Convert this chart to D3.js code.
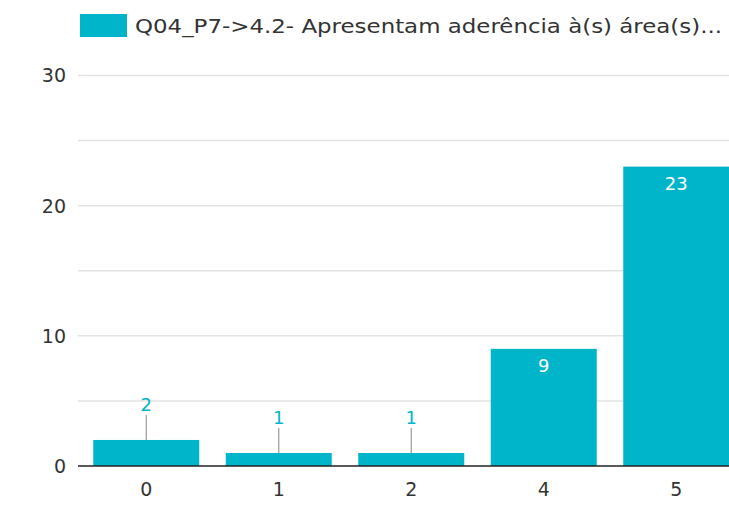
<!DOCTYPE html>
<html>
<head>
<meta charset="utf-8">
<script src="https://cdn.jsdelivr.net/npm/d3@7"></script>
<style>
  body { margin: 0; background: #fff; }
  text { font-family: "DejaVu Sans", sans-serif; }
</style>
</head>
<body>
<svg width="729" height="506"></svg>
<script>
// Data
var categories = ['0', '1', '2', '4', '5']
var values = [2, 1, 1, 9, 23]
var yTicks = [0, 10, 20, 30]
var seriesName = 'Q04_P7->4.2- Apresentam aderência à(s) área(s)...'

var color = '#00b5c9'

var svg = d3.select('svg'),
  width = +svg.attr('width'),
  height = +svg.attr('height')

var plotLeft = 78

// Scales
var x = d3
  .scaleBand()
  .domain(categories)
  .range([80, 742.5])
  .paddingInner(0.2)
  .paddingOuter(0.1)

var y = d3
  .scaleLinear()
  .domain([0, 30])
  .range([466, 75.5])

// Gridlines every 5
svg
  .append('g')
  .selectAll('line')
  .data(d3.range(5, 31, 5))
  .enter()
  .append('line')
  .attr('x1', plotLeft)
  .attr('x2', width)
  .attr('y1', function(d) { return y(d) })
  .attr('y2', function(d) { return y(d) })
  .attr('stroke', '#e3e3e3')
  .attr('stroke-width', 1.5)

// Y axis labels
svg
  .append('g')
  .selectAll('text')
  .data(yTicks)
  .enter()
  .append('text')
  .attr('x', 66)
  .attr('y', function(d) { return y(d) })
  .attr('dy', '0.36em')
  .attr('text-anchor', 'end')
  .attr('font-size', 19)
  .attr('fill', '#333')
  .text(function(d) { return d })

// Bars
svg
  .append('g')
  .selectAll('rect')
  .data(values)
  .enter()
  .append('rect')
  .attr('x', function(d, i) { return x(categories[i]) })
  .attr('width', x.bandwidth())
  .attr('y', function(d) { return y(d) })
  .attr('height', function(d) { return y(0) - y(d) })
  .attr('fill', color)

// Baseline
svg
  .append('line')
  .attr('x1', plotLeft)
  .attr('x2', width)
  .attr('y1', y(0))
  .attr('y2', y(0))
  .attr('stroke', '#222')
  .attr('stroke-width', 1.5)

// X axis labels
svg
  .append('g')
  .selectAll('text')
  .data(categories)
  .enter()
  .append('text')
  .attr('x', function(d) { return x(d) + x.bandwidth() / 2 })
  .attr('y', y(0) + 30)
  .attr('text-anchor', 'middle')
  .attr('font-size', 19)
  .attr('fill', '#333')
  .text(function(d) { return d })

// Value labels: inside for tall bars, above with leader line for short ones
var labels = svg.append('g')
values.forEach(function(v, i) {
  var cx = x(categories[i]) + x.bandwidth() / 2
  if (v >= 5) {
    labels
      .append('text')
      .attr('x', cx)
      .attr('y', y(v) + 23)
      .attr('text-anchor', 'middle')
      .attr('font-size', 18)
      .attr('fill', '#fff')
      .text(v)
  } else {
    labels
      .append('line')
      .attr('x1', cx)
      .attr('x2', cx)
      .attr('y1', y(v))
      .attr('y2', y(v) - 25)
      .attr('stroke', '#999')
      .attr('stroke-width', 1.2)
    labels
      .append('text')
      .attr('x', cx)
      .attr('y', y(v) - 29)
      .attr('text-anchor', 'middle')
      .attr('font-size', 18)
      .attr('fill', color)
      .text(v)
  }
})

// Legend
var legend = svg.append('g').attr('transform', 'translate(80,14)')
legend
  .append('rect')
  .attr('width', 47)
  .attr('height', 23)
  .attr('fill', color)
legend
  .append('text')
  .attr('x', 55)
  .attr('y', 19)
  .attr('font-size', 19)
  .attr('fill', '#333')
  .attr('textLength', 587)
  .attr('lengthAdjust', 'spacingAndGlyphs')
  .text(seriesName)
</script>
</body>
</html>
